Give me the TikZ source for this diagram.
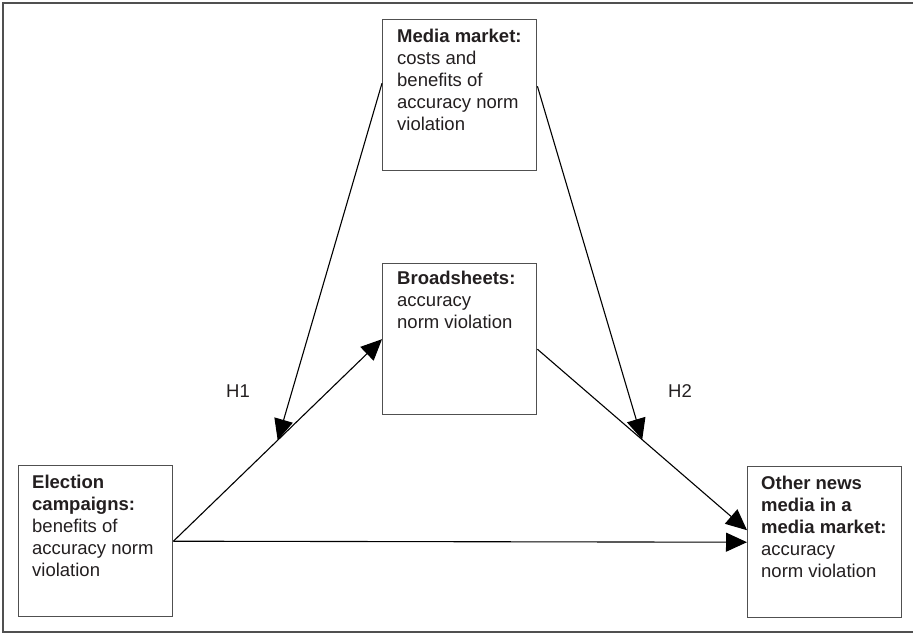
\documentclass[tikz,border=0pt]{standalone}
\usepackage{fontspec}
\setmainfont{Liberation Sans}
\usetikzlibrary{arrows.meta,calc}
\definecolor{txtgray}{HTML}{231F20}
\definecolor{boxgray}{HTML}{505050}
\tikzset{
  boxnode/.style={draw=boxgray, line width=1.4pt, minimum width=154pt, minimum height=151pt, inner sep=0pt, anchor=north west},
  boxtext/.style={anchor=north west, inner sep=0pt, align=left, text=txtgray, font=\fontsize{18.5}{22}\selectfont},
  link/.style={line width=1.1pt, -{Triangle[length=21pt,width=19pt]}},
  hlabel/.style={text=txtgray, font=\fontsize{18.5}{22}\selectfont}
}
\begin{document}
\begin{tikzpicture}[x=1pt,y=-1pt]
    \useasboundingbox (0,0) rectangle (913,633);
    % Frame
        \draw[boxgray, line width=2pt] (3,3) rectangle (920,632);
    % Boxes
        \node[boxnode] (market) at (382,19) {};
        \node[boxnode] (broad) at (382,263) {};
        \node[boxnode] (campaign) at (18,465) {};
        \node[boxnode] (other) at (747,466) {};
    % Box texts
        \node[boxtext] (markettxt) at ($(market.north west)+(15,10)$) {\textbf{Media market:}\\costs and\\benefits of\\accuracy norm\\violation};
        \node[boxtext] (broadtxt) at ($(broad.north west)+(15,8)$) {\textbf{Broadsheets:}\\accuracy\\norm violation};
        \node[boxtext] (campaigntxt) at ($(campaign.north west)+(14,10)$) {\textbf{Election}\\\textbf{campaigns:}\\benefits of\\accuracy norm\\violation};
        \node[boxtext] (othertxt) at ($(other.north west)+(14,10)$) {\textbf{Other news}\\\textbf{media in a}\\\textbf{media market:}\\accuracy\\norm violation};
    % Paths
        \draw[link] (campaign.east) -- (broad.west); % H1 path
        \draw[link] (campaign.east) -- (other.west); % direct
        \draw[link] ([yshift=-10pt]broad.east) -- ([yshift=12pt]other.west); % H2 path
        \coordinate (h1mid) at ($(campaign.east)!0.5!(broad.west)$);
        \coordinate (h2mid) at ($([yshift=-10pt]broad.east)!0.5!([yshift=12pt]other.west)$);
    % Moderation
        \draw[link] ([yshift=12pt]market.west) -- (h1mid);
        \draw[link] ([yshift=9pt]market.east) -- (h2mid);
    % Labels
        \node[hlabel] (hone) at (238,391) {H1};
        \node[hlabel] (htwo) at (680,391) {H2};
\end{tikzpicture}
\end{document}
